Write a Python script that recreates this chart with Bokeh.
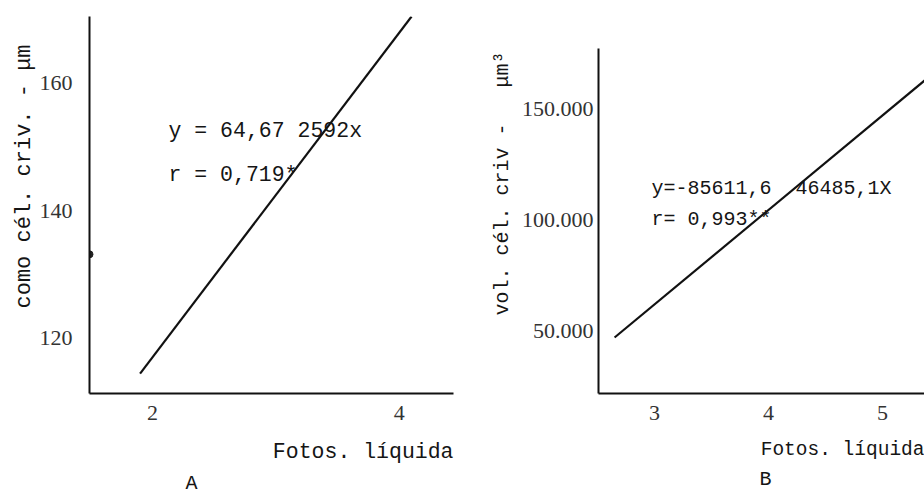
import math
from bokeh.plotting import figure
from bokeh.layouts import row
from bokeh.models import Label, FixedTicker, Range1d, Title
from bokeh.embed import file_html
from bokeh.resources import INLINE

# ---------------- data ----------------
a_line_x = [1.90, 4.10]
a_line_y = [114.5, 170.5]
a_dot_x = [1.49]
a_dot_y = [133.2]
a_xticks = [2, 4]
a_yticks = [120, 140, 160]

b_line_x = [2.65, 5.37]
b_line_y = [47300, 162600]
b_xticks = [3, 4, 5]
b_yticks = [50000, 100000, 150000]
b_ytick_labels = ["50.000", "100.000", "150.000"]

MONO = "Liberation Mono"
SERIF = "Liberation Serif"
INK = "#151515"
TICK_INK = "#333333"
NB = "\u00a0"  # non-breaking space (SVG collapses ordinary runs of spaces)

H = 496
FT, FB = 16, 393   # frame top / bottom (page px), shared by both panels


def make_mapper(fx0, fx1, xr, yr):
    def mx(px):
        return xr[0] + (px - fx0) / (fx1 - fx0) * (xr[1] - xr[0])

    def my(py):
        return yr[1] - (py - FT) / (FB - FT) * (yr[1] - yr[0])
    return mx, my


def style_axes(p, x_std, y_std):
    for ax in (p.xaxis[0], p.yaxis[0]):
        ax.axis_line_color = "#111111"
        ax.axis_line_width = 2
        ax.major_tick_in = 0
        ax.major_tick_out = 0
        ax.minor_tick_in = 0
        ax.minor_tick_out = 0
        ax.major_label_text_font = SERIF
        ax.major_label_text_font_size = "22px"
        ax.major_label_text_color = TICK_INK
    p.xaxis[0].major_label_standoff = x_std
    p.yaxis[0].major_label_standoff = y_std
    p.xgrid.visible = False
    p.ygrid.visible = False
    p.outline_line_color = None


def title(text, size, align, offset, standoff):
    return Title(text=text, text_font=MONO, text_font_size=size, text_font_style="normal",
                 text_color=INK, align=align, offset=offset, standoff=standoff)


def spacer(gap):
    return Title(text=NB, text_font_size="1px", standoff=gap)


# ---------------- panel A ----------------
A_W = 470
a_xr = (1.49, 4.44)
a_yr = (111.37, 170.5)
pa = figure(width=A_W, height=H, output_backend="svg", toolbar_location=None,
            x_range=Range1d(*a_xr), y_range=Range1d(*a_yr),
            min_border_left=89, min_border_right=17, min_border_top=FT,
            min_border_bottom=H - FB)
style_axes(pa, 12, 17)
pa.xaxis[0].ticker = FixedTicker(ticks=a_xticks)
pa.yaxis[0].ticker = FixedTicker(ticks=a_yticks)

pa.line(a_line_x, a_line_y, line_color="#111111", line_width=2.2)
pa.scatter(a_dot_x, a_dot_y, size=7, color="#222222")

amx, amy = make_mapper(89, 453, a_xr, a_yr)
pa.add_layout(Label(x=amx(168), y=amy(130), text="y = 64,67 2592x", text_font=MONO,
                    text_font_size="21.5px", text_color=INK, text_baseline="middle"))
pa.add_layout(Label(x=amx(168), y=amy(174), text="r = 0,719*", text_font=MONO,
                    text_font_size="21.5px", text_color=INK, text_baseline="middle"))

pa.add_layout(title("como cél. criv. - μm", "22px", "left", FB - 308, 0), "left")
pa.add_layout(spacer(6), "below")
pa.add_layout(title("Fotos. líquida", "21.5px", "right", 0, 12), "below")
pa.add_layout(title("A", "20px", "left", 191 - 89 - 6, 0), "below")

# ---------------- panel B ----------------
B_W = 454
b_xr = (2.509, 5.368)
b_yr = (22197, 191256)
b_ybounds = (22197, 176906)
pb = figure(width=B_W, height=H, output_backend="svg", toolbar_location=None,
            x_range=Range1d(*b_xr), y_range=Range1d(*b_yr),
            min_border_left=128, min_border_right=0, min_border_top=FT,
            min_border_bottom=H - FB)
style_axes(pb, 12, 5)
pb.yaxis[0].bounds = b_ybounds
pb.xaxis[0].ticker = FixedTicker(ticks=b_xticks)
pb.yaxis[0].ticker = FixedTicker(ticks=b_yticks)
pb.yaxis[0].major_label_overrides = {t: s for t, s in zip(b_yticks, b_ytick_labels)}

pb.line(b_line_x, b_line_y, line_color="#111111", line_width=2.2)

bmx, bmy = make_mapper(598, 924, b_xr, b_yr)
pb.add_layout(Label(x=bmx(651), y=bmy(188), text="y=-85611,6" + NB + NB + "46485,1X",
                    text_font=MONO, text_font_size="20px", text_color=INK,
                    text_baseline="middle"))
pb.add_layout(Label(x=bmx(651), y=bmy(219), text="r=" + NB + "0,993**", text_font=MONO,
                    text_font_size="20px", text_color=INK, text_baseline="middle"))

pb.add_layout(spacer(2), "left")
pb.add_layout(title("vol. cél. criv -" + NB * 3 + "μm³", "20px", "left", FB - 315, 0),
              "left")
pb.add_layout(spacer(7), "below")
pb.add_layout(title("Fotos. líquida", "19.5px", "right", 0, 9), "below")
pb.add_layout(title("B", "20px", "left", 765 - 598 - 6, 0), "below")

layout = row(pa, pb, spacing=0)
open("out.html", "w").write(file_html(layout, INLINE))
